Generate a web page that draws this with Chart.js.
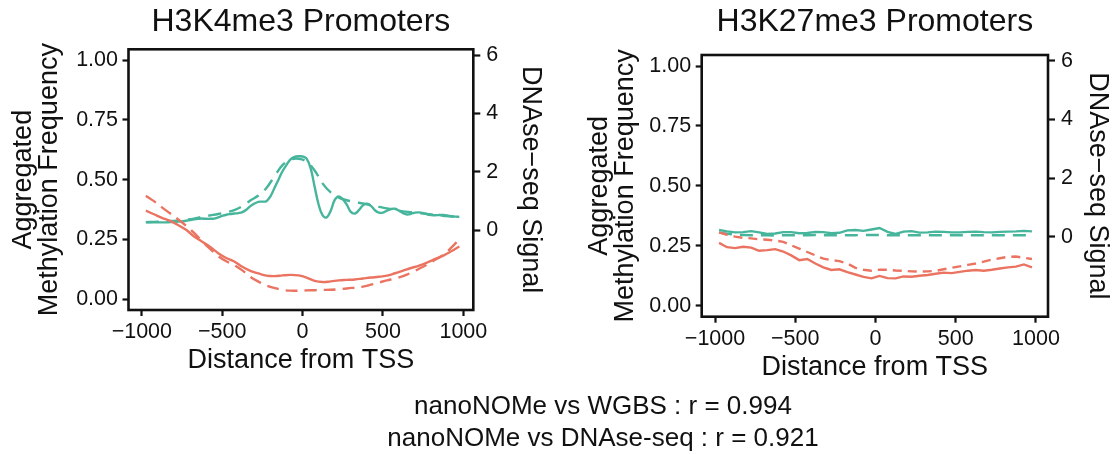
<!DOCTYPE html>
<html>
<head>
<meta charset="utf-8">
<title>Promoters</title>
<script src="https://cdn.jsdelivr.net/npm/chart.js@4.4.0/dist/chart.umd.min.js"></script>
<style>
  html, body { margin: 0; padding: 0; background: #fff; }
  #page { position: relative; width: 1118px; height: 454px; overflow: hidden; }
  #page canvas { position: absolute; top: 0; }
  #leftChart { left: 0; }
  #rightChart { left: 558px; }
  #stats {
    position: absolute; left: 303px; width: 600px; top: 389px;
    text-align: center; font-family: 'Liberation Sans', Arial, sans-serif;
    font-size: 26px; line-height: 32px; color: #111; white-space: nowrap;
  }
</style>
</head>
<body>
<div id="page">
  <canvas id="leftChart" width="560" height="454"></canvas>
  <canvas id="rightChart" width="560" height="454"></canvas>
  <div id="stats">nanoNOMe vs WGBS : r = 0.994<br>nanoNOMe vs DNAse-seq : r = 0.921</div>
</div>
<script>
// distance from TSS, fine and coarse grids
const xsFine = [-975, -950, -925, -900, -875, -850, -825, -800, -775, -750, -725, -700, -675, -650, -625, -600, -575, -550, -525, -500,
  -475, -450, -425, -400, -375, -350, -325, -300, -275, -250, -225, -200, -175, -150, -125, -100, -75, -50, -25, 0,
  25, 50, 75, 100, 125, 150, 175, 200, 225, 250, 275, 300, 325, 350, 375, 400, 425, 450, 475, 500,
  525, 550, 575, 600, 625, 650, 675, 700, 725, 750, 775, 800, 825, 850, 875, 900, 925, 950, 975]
const xsCoarse = [-975, -925, -875, -825, -775, -725, -675, -625, -575, -525, -475, -425, -375, -325, -275, -225, -175, -125, -75, -25,
  25, 75, 125, 175, 225, 275, 325, 375, 425, 475, 525, 575, 625, 675, 725, 775, 825, 875, 925, 975]

const xTicks = [-1000, -500, 0, 500, 1000]
const methTicks = [0, 0.25, 0.5, 0.75, 1]
const dnaseTicks = [0, 2, 4, 6]

// H3K4me3 promoters
const k4Accessibility = [0.321, 0.321, 0.321, 0.321, 0.321, 0.321, 0.322, 0.323, 0.324, 0.325,
  0.328, 0.331, 0.334, 0.336, 0.337, 0.336, 0.336, 0.337, 0.342, 0.348,
  0.353, 0.356, 0.358, 0.360, 0.364, 0.374, 0.389, 0.400, 0.407, 0.408,
  0.410, 0.430, 0.465, 0.500, 0.535, 0.562, 0.585, 0.595, 0.598, 0.597,
  0.588, 0.548, 0.470, 0.395, 0.350, 0.342, 0.370, 0.415, 0.430, 0.418,
  0.395, 0.365, 0.358, 0.372, 0.392, 0.399, 0.390, 0.372, 0.362, 0.362,
  0.370, 0.377, 0.378, 0.370, 0.360, 0.354, 0.357, 0.362, 0.363, 0.360,
  0.355, 0.352, 0.351, 0.352, 0.352, 0.350, 0.347, 0.345, 0.344]
const k4Dnase = [0.28, 0.29, 0.30, 0.32, 0.33, 0.36, 0.40, 0.46, 0.51, 0.56,
  0.62, 0.69, 0.83, 1.02, 1.19, 1.45, 1.85, 2.23, 2.42, 2.45,
  2.35, 2.05, 1.60, 1.30, 1.12, 1.03, 0.97, 0.92, 0.86, 0.80,
  0.75, 0.69, 0.65, 0.62, 0.59, 0.56, 0.53, 0.50, 0.47, 0.45]
const k4NanoCpG = [0.370, 0.355, 0.340, 0.327, 0.310, 0.290, 0.262, 0.240, 0.218, 0.192,
  0.172, 0.157, 0.135, 0.118, 0.107, 0.098, 0.096, 0.099, 0.101, 0.099,
  0.090, 0.076, 0.071, 0.074, 0.078, 0.080, 0.082, 0.086, 0.090, 0.093,
  0.098, 0.108, 0.119, 0.130, 0.140, 0.153, 0.168, 0.182, 0.200, 0.220]
const k4Wgbs = [0.433, 0.410, 0.384, 0.359, 0.334, 0.307, 0.277, 0.242, 0.210, 0.180,
  0.158, 0.142, 0.120, 0.093, 0.073, 0.057, 0.046, 0.038, 0.035, 0.035,
  0.036, 0.037, 0.038, 0.039, 0.041, 0.044, 0.048, 0.052, 0.060, 0.069,
  0.078, 0.086, 0.096, 0.110, 0.127, 0.144, 0.165, 0.185, 0.215, 0.250]

// H3K27me3 promoters
const k27Accessibility = [0.316, 0.310, 0.306, 0.307, 0.311, 0.306, 0.299, 0.301, 0.307, 0.307,
  0.302, 0.303, 0.308, 0.307, 0.302, 0.304, 0.314, 0.316, 0.312, 0.318,
  0.324, 0.308, 0.299, 0.309, 0.311, 0.305, 0.306, 0.309, 0.308, 0.306,
  0.306, 0.308, 0.309, 0.307, 0.306, 0.308, 0.309, 0.310, 0.312, 0.310]
const k27Dnase = [0.14, 0.10, 0.07, 0.06, 0.05, 0.05, 0.05, 0.04, 0.05, 0.05,
  0.05, 0.05, 0.06, 0.05, 0.05, 0.05, 0.05, 0.05, 0.06, 0.06,
  0.06, 0.05, 0.05, 0.05, 0.05, 0.05, 0.05, 0.05, 0.05, 0.05,
  0.05, 0.05, 0.05, 0.05, 0.05, 0.05, 0.05, 0.05, 0.05, 0.05]
const k27NanoCpG = [0.262, 0.244, 0.240, 0.246, 0.242, 0.229, 0.232, 0.236, 0.226, 0.210,
  0.190, 0.195, 0.176, 0.160, 0.149, 0.152, 0.140, 0.130, 0.120, 0.114,
  0.124, 0.115, 0.114, 0.122, 0.121, 0.125, 0.128, 0.133, 0.138, 0.136,
  0.141, 0.146, 0.149, 0.146, 0.150, 0.155, 0.160, 0.163, 0.172, 0.160]
const k27Wgbs = [0.306, 0.296, 0.288, 0.283, 0.281, 0.277, 0.275, 0.272, 0.266, 0.252,
  0.238, 0.224, 0.210, 0.196, 0.190, 0.186, 0.176, 0.158, 0.150, 0.146,
  0.150, 0.150, 0.147, 0.145, 0.143, 0.142, 0.143, 0.145, 0.152, 0.158,
  0.164, 0.170, 0.176, 0.184, 0.192, 0.198, 0.204, 0.205, 0.200, 0.195]

const FONT = "'Liberation Sans', Arial, Helvetica, sans-serif"
const INK = '#111111'
const GREEN = '#46b59c'
const RED = '#ea7461'

const toPoints = (xs, ys) => xs.map((x, i) => ({ x: x, y: ys[i] }))
const minus = (v) => (v < 0 ? '\u2212' + Math.abs(v) : String(v))

// black box round the plot area
const frame = {
  id: 'frame',
  afterDatasetsDraw(chart) {
    const { ctx, chartArea } = chart
    ctx.save()
    ctx.strokeStyle = INK
    ctx.lineWidth = 2.6
    ctx.strokeRect(chartArea.left, chartArea.top, chartArea.right - chartArea.left, chartArea.bottom - chartArea.top)
    ctx.restore()
  }
}

function line(data, color, dash, axis, tension) {
  return {
    data: data,
    borderColor: color,
    borderWidth: 2.4,
    borderDash: dash,
    pointRadius: 0,
    fill: false,
    tension: tension,
    yAxisID: axis,
  }
}

function tickGrid(len) {
  return { display: true, drawOnChartArea: false, drawTicks: true, tickLength: len, tickWidth: 2.2, tickColor: INK }
}

function makePanel(id, p) {
  const axisFont = { family: FONT, size: 21.5 }
  const titleFont = { family: FONT, size: 27, lineHeight: 1.2 }
  return new Chart(document.getElementById(id), {
    type: 'line',
    data: { datasets: p.datasets },
    options: {
      responsive: false,
      animation: false,
      devicePixelRatio: 1,
      layout: { padding: { left: 0, right: 0, top: 0, bottom: p.padBottom } },
      plugins: {
        legend: { display: false },
        tooltip: { enabled: false },
        title: {
          display: true,
          text: p.title,
          fullSize: false,
          color: INK,
          font: { family: FONT, size: 32, lineHeight: 1.2, weight: 'normal' },
          padding: { top: 2.8, bottom: p.titleGap },
        },
      },
      scales: {
        x: {
          type: 'linear',
          position: 'bottom',
          min: p.xMin,
          max: p.xMax,
          afterBuildTicks: (s) => { s.ticks = xTicks.map((v) => ({ value: v })) },
          afterFit: (s) => { s.height = 70 },
          ticks: { font: axisFont, color: INK, padding: 3.5, maxRotation: 0, autoSkip: false, callback: (v) => minus(v) },
          grid: tickGrid(6),
          border: { display: false },
          title: { display: true, text: 'Distance from TSS', color: INK, font: titleFont, padding: { top: 0, bottom: p.xTitlePad } },
        },
        y: {
          type: 'linear',
          position: 'left',
          min: -0.046,
          max: 1.046,
          afterBuildTicks: (s) => { s.ticks = methTicks.map((v) => ({ value: v })) },
          afterFit: (s) => { s.width = p.yWidth },
          ticks: { font: axisFont, color: INK, padding: 4.5, autoSkip: false, callback: (v) => v.toFixed(2) },
          grid: tickGrid(6),
          border: { display: false },
          title: {
            display: true,
            text: ['Aggregated', 'Methylation Frequency'],
            color: INK,
            font: { family: FONT, size: 27, lineHeight: 0.96 },
            padding: { top: p.yTitlePad, bottom: 0 },
          },
        },
        y2: {
          type: 'linear',
          position: 'right',
          min: -2.73,
          max: 6.2,
          afterBuildTicks: (s) => { s.ticks = dnaseTicks.map((v) => ({ value: v })) },
          afterFit: (s) => { s.width = p.y2Width },
          ticks: { font: axisFont, color: INK, padding: 6, autoSkip: false, callback: (v) => minus(v) },
          grid: tickGrid(7),
          border: { display: false },
          title: { display: true, text: 'DNAse\u2212seq Signal', color: INK, font: titleFont, padding: { top: p.y2TitlePad, bottom: 0 } },
        },
      },
    },
    plugins: [frame],
  })
}

makePanel('leftChart', {
  title: 'H3K4me3 Promoters',
  xMin: -1083, xMax: 1062,
  padBottom: 74, titleGap: 8.1, xTitlePad: 3.3,
  yWidth: 128.5, y2Width: 86.7, yTitlePad: 11, y2TitlePad: 13.8,
  datasets: [
    line(toPoints(xsCoarse, k4Wgbs), RED, [12, 7], 'y', 0.4),
    line(toPoints(xsCoarse, k4NanoCpG), RED, [], 'y', 0.4),
    line(toPoints(xsCoarse, k4Dnase), GREEN, [13, 8], 'y2', 0.4),
    line(toPoints(xsFine, k4Accessibility), GREEN, [], 'y', 0.4),
  ],
})

makePanel('rightChart', {
  title: 'H3K27me3 Promoters',
  xMin: -1083, xMax: 1075,
  padBottom: 67.3, titleGap: 13.8, xTitlePad: 3,
  yWidth: 143.7, y2Width: 70, yTitlePad: 29, y2TitlePad: 4.3,
  datasets: [
    line(toPoints(xsCoarse, k27Wgbs), RED, [9, 6], 'y', 0),
    line(toPoints(xsCoarse, k27NanoCpG), RED, [], 'y', 0),
    line(toPoints(xsCoarse, k27Dnase), GREEN, [13, 8], 'y2', 0),
    line(toPoints(xsCoarse, k27Accessibility), GREEN, [], 'y', 0),
  ],
})
</script>
</body>
</html>
